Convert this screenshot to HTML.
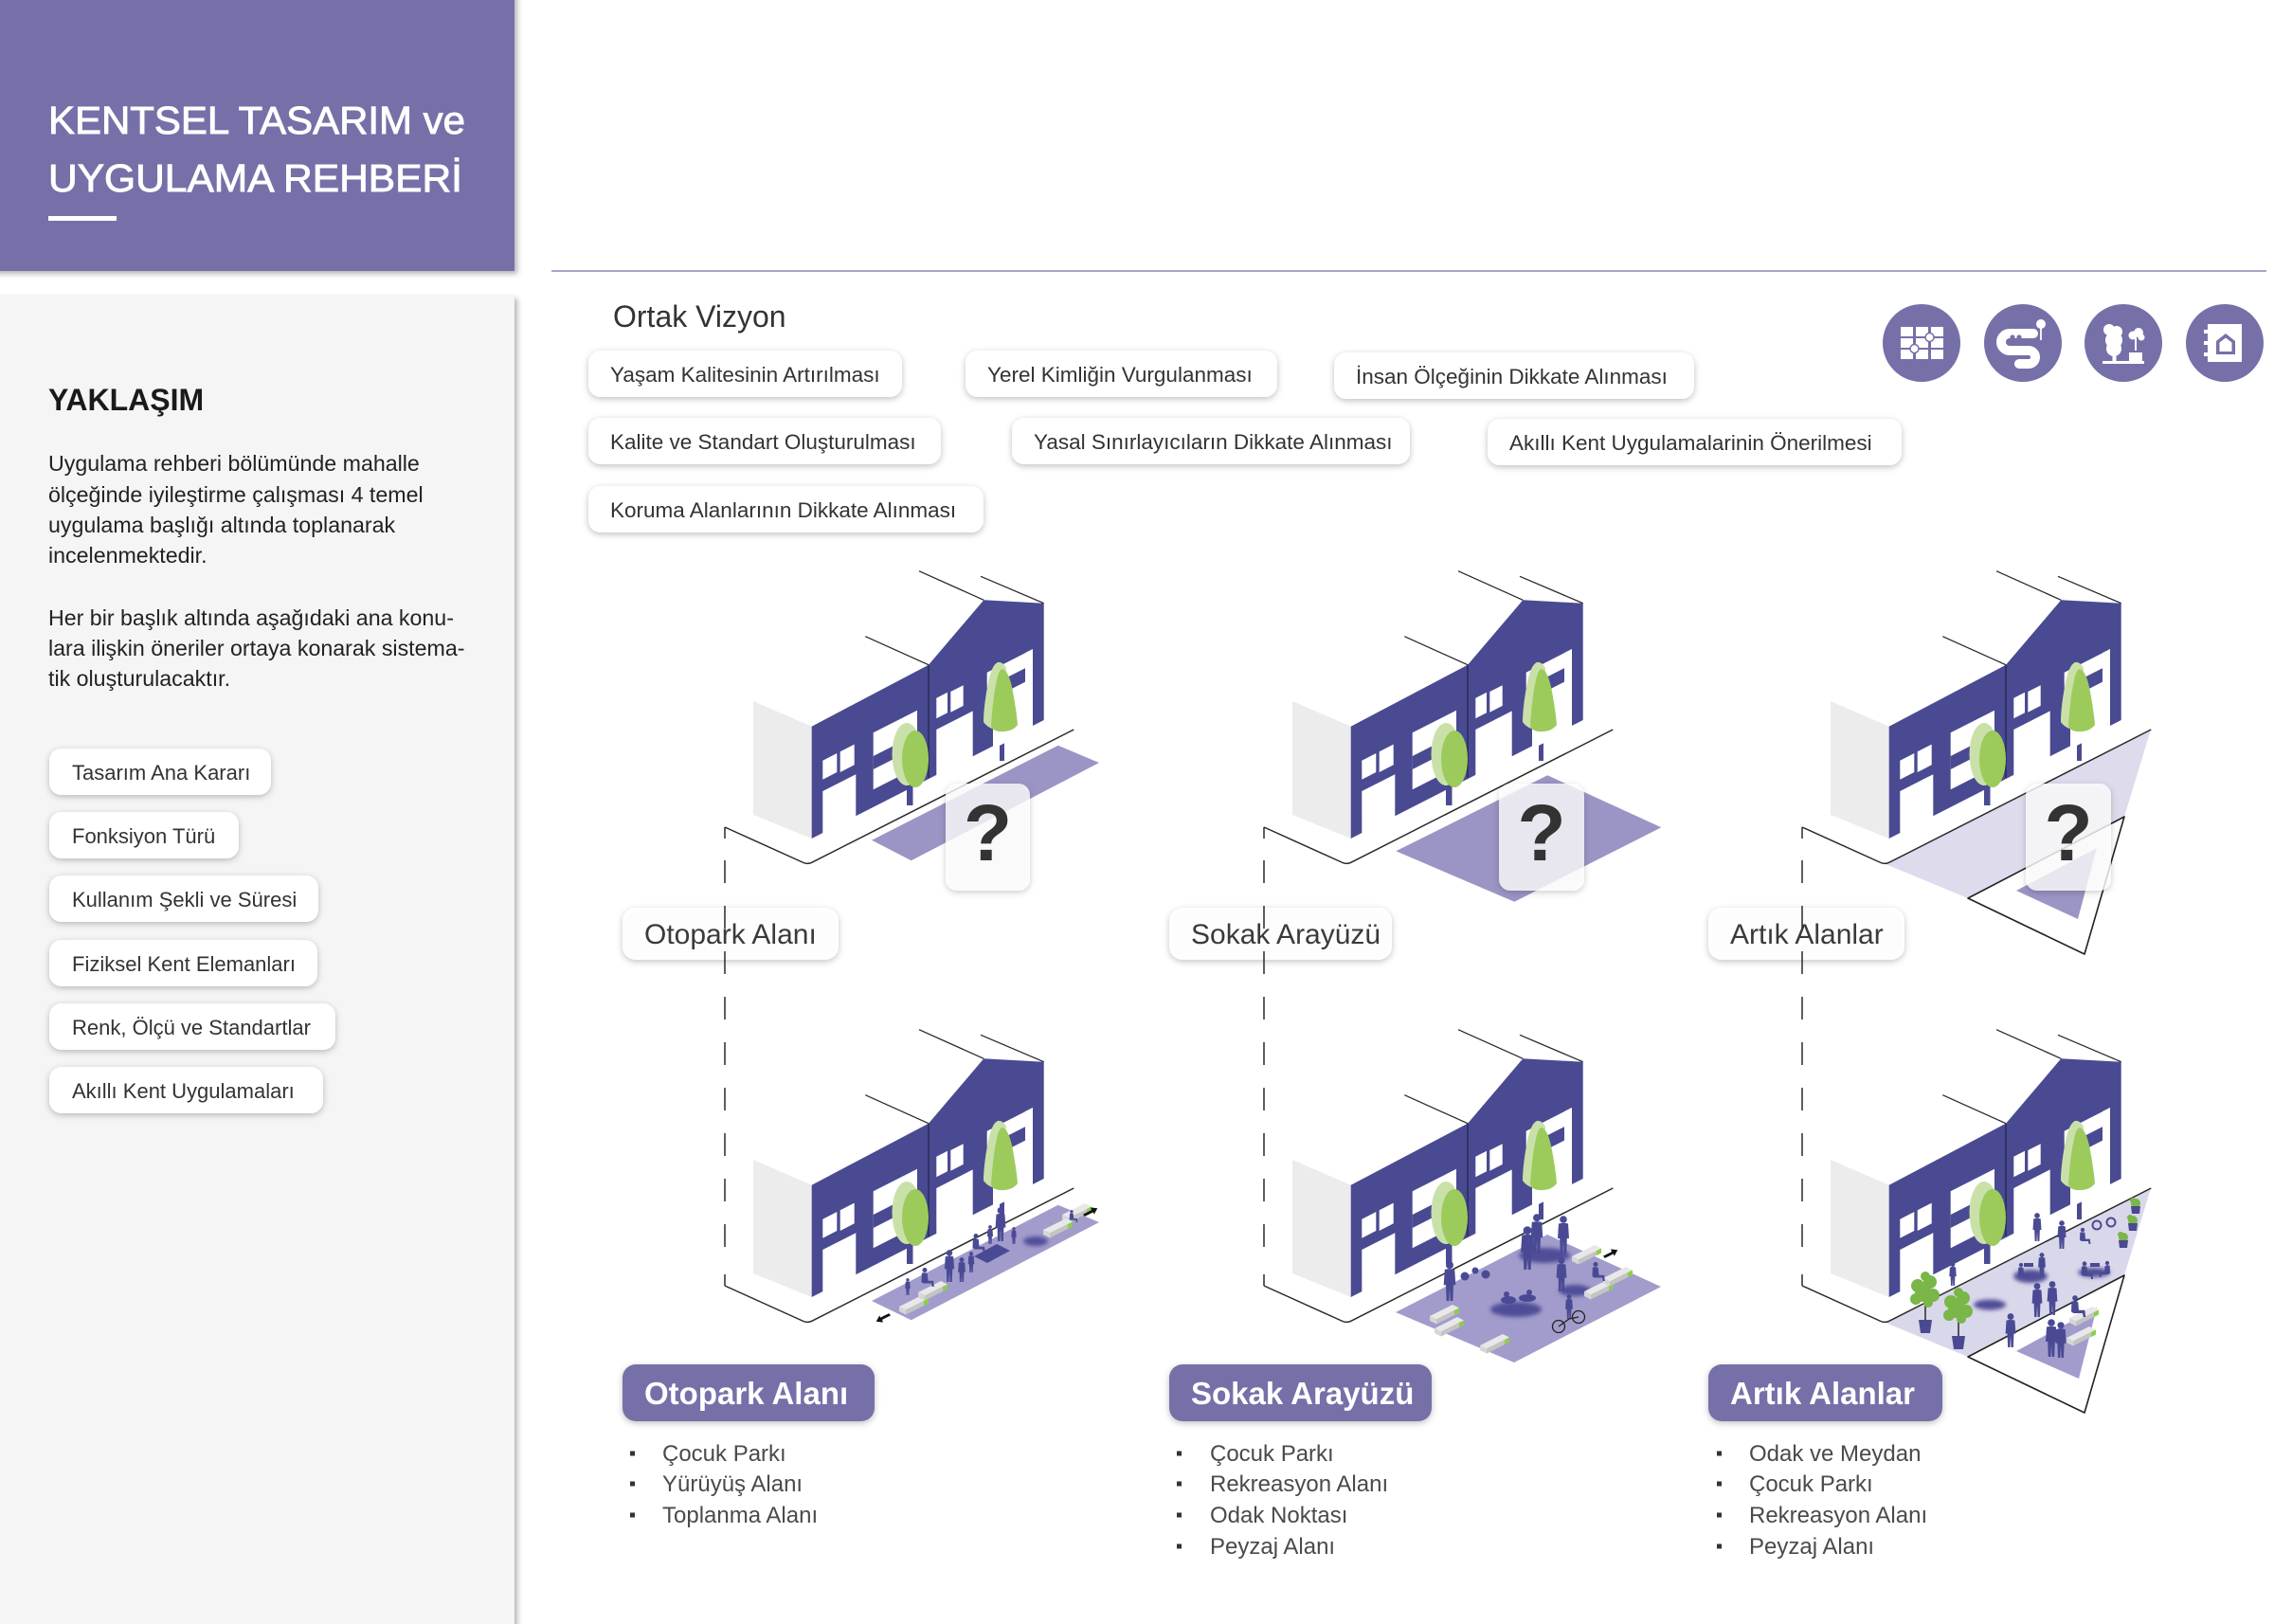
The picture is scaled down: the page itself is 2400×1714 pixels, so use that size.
<!DOCTYPE html>
<html><head><meta charset="utf-8"><style>
html,body{margin:0;padding:0;background:#fff;}
body{width:2400px;height:1714px;overflow:hidden;}
svg{display:block;}
</style></head><body>
<svg width="2400" height="1714" viewBox="0 0 2400 1714" xmlns="http://www.w3.org/2000/svg" xmlns:xlink="http://www.w3.org/1999/xlink" font-family="'Liberation Sans', sans-serif">
<defs>
<filter id="hs" x="-10%" y="-10%" width="125%" height="130%"><feDropShadow dx="3" dy="3" stdDeviation="3" flood-color="#000" flood-opacity="0.3"/></filter>
<filter id="ps" x="-20%" y="-40%" width="140%" height="190%"><feDropShadow dx="0" dy="2" stdDeviation="3.5" flood-color="#000" flood-opacity="0.25"/></filter>
<filter id="bl" x="-50%" y="-50%" width="200%" height="200%"><feGaussianBlur stdDeviation="2"/></filter>
<g id="bld">
<polygon points="795,740 856.7,766.7 856.7,885 795,860" fill="#ececec"/>
<rect x="957" y="815" width="6.5" height="35" fill="#4a4a92"/>
<rect x="1055" y="765" width="5" height="38" fill="#4a4a92"/>
<polygon points="856.7,766.7 980,701.7 1038.3,633.3 1101.7,636.7 1101.7,760 856.7,885" fill="#4a4a92"/>
<g fill="#fff">
<polygon points="868.3,802.7 883.3,795 883.3,815 868.3,822.7"/>
<polygon points="886.7,793.3 901.7,785.6 901.7,807.3 886.7,815"/>
<polygon points="868.3,835 903.3,817.2 903.3,864 868.3,882"/>
<polygon points="921.7,773.3 968,749.7 968,809.7 921.7,833.3"/>
<polygon points="988.3,736.7 1000,730.7 1000,752.3 988.3,758.3"/>
<polygon points="1003.3,730 1016.7,723.2 1016.7,744.9 1003.3,751.7"/>
<polygon points="988.3,770 1026.7,750.4 1026.7,801.3 988.3,820.9"/>
<polygon points="1041.7,709.7 1090,685.1 1090,701.1 1041.7,725.7"/>
<polygon points="1048,737 1090,715.6 1090,769 1048,790.5"/>
<polygon points="1082,689 1090,685 1090,716 1082,720"/>
</g>
<polygon points="921.7,798 958,779.5 958,793.5 921.7,812" fill="#4a4a92"/>
<line x1="980" y1="701.7" x2="980" y2="821" stroke="#22224a" stroke-width="1.2"/>
<g stroke="#2a2a2a" stroke-width="1.3" fill="none">
<line x1="913.3" y1="671.7" x2="980" y2="701.7"/>
<line x1="970" y1="602.7" x2="1038.3" y2="633.3"/>
<line x1="1035" y1="608.3" x2="1101.7" y2="636.7"/>
<path d="M765,873 L848,910.5 Q852.5,912.5 857,910.2 L1133.3,770" stroke-width="1.5"/>
</g>
<ellipse cx="957" cy="796" rx="15.5" ry="33" fill="#c9e1a9"/>
<ellipse cx="966" cy="801" rx="14" ry="30" fill="#9ccb5c"/>
<path d="M1053,699 Q1046,702 1042,725 Q1038,748 1038,762 Q1044,771 1060,771 L1062,705 Q1058,698 1053,699Z" fill="#c9e1a9"/>
<path d="M1058,706 Q1065,708 1069,730 Q1073,752 1074,765 Q1068,773 1055,772 Q1047,771 1046,766 Q1048,735 1052,718 Q1054,707 1058,706Z" fill="#9ccb5c"/>
</g>
<g id="m"><circle cx="0" cy="-36" r="3.8"/><path d="M-5,-31.5 Q0,-33 5,-31.5 L6,-16 L3.8,-16 L3.2,0 L0.6,0 L0,-13 L-0.6,0 L-3.2,0 L-3.8,-16 L-6,-16 Z"/></g>
<g id="s"><circle cx="0" cy="-25" r="3.6"/><path d="M-4.5,-20.5 Q0,-22 4,-20 L5,-9 L13,-9 L14,0 L11,0 L10,-5 L-2,-5 L-5,-7 Z"/></g>
<g id="bn"><polygon points="0,0 24,-12 31,-8.5 7,3.5" fill="#e8e8e8"/><polygon points="7,3.5 31,-8.5 31,-3.5 7,8.5" fill="#c4c4c4"/><polygon points="0,0 7,3.5 7,8.5 0,5" fill="#d6d6d6"/><polygon points="26,-6 31,-8.5 31,-3.5 26,-1" fill="#8ccf48"/></g>
<g id="ar"><path d="M0,4 L10,-1 L9,-4 L17,-3 L13,4 L12,1.5 L2,6.5 Z" fill="#111"/></g>
<g id="pt"><rect x="-1" y="-18" width="2" height="18" fill="#555"/><g fill="#7ab648"><circle cx="-8" cy="-36" r="7"/><circle cx="5" cy="-40" r="7"/><circle cx="-2" cy="-28" r="9"/><circle cx="8" cy="-26" r="7"/><circle cx="-10" cy="-22" r="6"/><circle cx="0" cy="-46" r="5"/><circle cx="3" cy="-18" r="5"/></g><polygon points="-7,0 7,0 5,14 -5,14" fill="#4a4a92"/></g>
<g id="pl"><circle cx="0" cy="-3" r="5" fill="#7ab648"/><circle cx="-3" cy="-6" r="3" fill="#7ab648"/><polygon points="-5,0 5,0 4,8 -4,8" fill="#4a4a92"/></g>
</defs>

<!-- left panel -->
<rect x="-10" y="312" width="553" height="1420" fill="#f5f5f5" filter="url(#hs)"/>
<rect x="-10" y="-10" width="553" height="296" fill="#7670a9" filter="url(#hs)"/>
<text x="51" y="141" font-size="41" fill="#fff" stroke="#fff" stroke-width="0.9" textLength="440" lengthAdjust="spacingAndGlyphs">KENTSEL TASARIM ve</text>
<text x="51" y="202" font-size="41" fill="#fff" stroke="#fff" stroke-width="0.9" textLength="437" lengthAdjust="spacingAndGlyphs">UYGULAMA REHBERİ</text>
<rect x="51" y="228" width="72" height="5" fill="#fff"/>

<text x="51" y="433" font-size="32" font-weight="bold" fill="#1a1a1a">YAKLAŞIM</text>
<g font-size="23.2" fill="#222">
<text x="51" y="497">Uygulama rehberi bölümünde mahalle</text>
<text x="51" y="530">ölçeğinde iyileştirme çalışması 4 temel</text>
<text x="51" y="562">uygulama başlığı altında toplanarak</text>
<text x="51" y="594">incelenmektedir.</text>
<text x="51" y="660">Her bir başlık altında aşağıdaki ana konu-</text>
<text x="51" y="692">lara ilişkin öneriler ortaya konarak sistema-</text>
<text x="51" y="724">tik oluşturulacaktır.</text>
</g>
<g fill="#fff" filter="url(#ps)">
<rect x="52" y="790" width="234" height="49" rx="13"/>
<rect x="52" y="857" width="200" height="49" rx="13"/>
<rect x="52" y="924" width="284" height="49" rx="13"/>
<rect x="52" y="992" width="283" height="49" rx="13"/>
<rect x="52" y="1059" width="302" height="49" rx="13"/>
<rect x="52" y="1126" width="289" height="49" rx="13"/>
</g>
<g font-size="22" fill="#333">
<text x="76" y="823">Tasarım Ana Kararı</text>
<text x="76" y="890">Fonksiyon Türü</text>
<text x="76" y="957">Kullanım Şekli ve Süresi</text>
<text x="76" y="1025">Fiziksel Kent Elemanları</text>
<text x="76" y="1092">Renk, Ölçü ve Standartlar</text>
<text x="76" y="1159">Akıllı Kent Uygulamaları</text>
</g>

<!-- top right -->
<line x1="582" y1="286" x2="2392" y2="286" stroke="#a8a5c8" stroke-width="2"/>
<text x="647" y="345" font-size="32" fill="#333">Ortak Vizyon</text>
<g fill="#fff" filter="url(#ps)">
<rect x="621" y="370" width="331" height="49" rx="13"/>
<rect x="1019" y="370" width="329" height="49" rx="13"/>
<rect x="1408" y="372" width="380" height="49" rx="13"/>
<rect x="621" y="441" width="372" height="49" rx="13"/>
<rect x="1068" y="441" width="420" height="49" rx="13"/>
<rect x="1570" y="442" width="437" height="49" rx="13"/>
<rect x="621" y="513" width="417" height="49" rx="13"/>
</g>
<g font-size="22.5" fill="#333">
<text x="644" y="403">Yaşam Kalitesinin Artırılması</text>
<text x="1042" y="403">Yerel Kimliğin Vurgulanması</text>
<text x="1431" y="405">İnsan Ölçeğinin Dikkate Alınması</text>
<text x="644" y="474">Kalite ve Standart Oluşturulması</text>
<text x="1091" y="474">Yasal Sınırlayıcıların Dikkate Alınması</text>
<text x="1593" y="475">Akıllı Kent Uygulamalarinin Önerilmesi</text>
<text x="644" y="546">Koruma Alanlarının Dikkate Alınması</text>
</g>

<!-- icons -->
<g fill="#7670a9">
<circle cx="2028" cy="362" r="41"/><circle cx="2135" cy="362" r="41"/><circle cx="2241" cy="362" r="41"/><circle cx="2348" cy="362" r="41"/>
</g>
<g fill="#fff">
<rect x="2006" y="345" width="13" height="10"/><rect x="2022" y="345" width="13" height="10"/><rect x="2038" y="345" width="13" height="10"/>
<rect x="2006" y="357" width="13" height="10"/><rect x="2022" y="357" width="13" height="10"/><rect x="2038" y="357" width="13" height="10"/>
<rect x="2006" y="369" width="13" height="10"/><rect x="2022" y="369" width="13" height="10"/><rect x="2038" y="369" width="13" height="10"/>
</g>
<circle cx="2036.5" cy="356" r="4.5" fill="#fff" stroke="#7670a9" stroke-width="1.5"/>
<circle cx="2020.5" cy="368" r="4.5" fill="#fff" stroke="#7670a9" stroke-width="1.5"/>
<path d="M2146,352 H2121 A9,9 0 0 0 2121,370 H2141 A7,7 0 0 1 2141,384 H2131" fill="none" stroke="#fff" stroke-width="10" stroke-linecap="round"/>
<circle cx="2124" cy="356" r="2.6" fill="#7670a9"/><circle cx="2131" cy="356" r="2.6" fill="#7670a9"/>
<circle cx="2154" cy="342" r="5" fill="#fff"/><line x1="2154" y1="345" x2="2154" y2="359" stroke="#fff" stroke-width="1.8"/>
<g fill="#fff">
<circle cx="2226" cy="348" r="6"/><circle cx="2234" cy="350" r="6"/><circle cx="2231" cy="359" r="9"/><circle cx="2231" cy="368" r="8"/>
<rect x="2229.5" y="370" width="4" height="12"/>
<circle cx="2251" cy="354" r="4.5"/><circle cx="2257" cy="351" r="5"/><circle cx="2260" cy="356" r="3.5"/>
<rect x="2253" y="356" width="2" height="14"/>
<rect x="2247" y="372" width="14" height="10"/>
<rect x="2219" y="381" width="44" height="3"/>
<rect x="2330" y="342" width="36" height="40"/>
<rect x="2326" y="348" width="6" height="4"/><rect x="2326" y="360" width="6" height="4"/><rect x="2326" y="372" width="6" height="4"/>
</g>
<polygon points="2339,360 2349,352 2359,360 2359,374 2339,374" fill="#7670a9"/>
<polygon points="2342.5,361.5 2349,356.5 2355.5,361.5 2355.5,371 2342.5,371" fill="#fff"/>

<!-- surfaces top row -->
<polygon points="920,886.7 1116.7,786.7 1160,805 961.7,908.3" fill="#9b95c5"/>
<polygon points="1473.3,898.3 1633.3,818.3 1753.3,873.3 1598.3,951.7" fill="#9b95c5"/>
<polygon points="1990,912 2270,770 2242,862 2077,948" fill="#dddbec"/>
<polygon points="2077,948 2242,862 2200,1007" fill="#fff" stroke="#222" stroke-width="1.6" stroke-linejoin="round"/>
<polygon points="2128,940 2213,895 2193,970" fill="#9b95c5"/>

<!-- surfaces bottom row -->
<polygon points="920,1373 1116.7,1271.7 1160,1290 961.7,1393.3" fill="#a19ccb"/>
<polygon points="1473,1385 1633,1303 1753,1358 1598,1438" fill="#a19ccb"/>
<polygon points="1990,1396 2270,1254 2242,1346 2077,1432" fill="#d9d7ea"/>
<polygon points="2077,1432 2242,1346 2200,1491" fill="#fff" stroke="#222" stroke-width="1.6" stroke-linejoin="round"/>
<polygon points="2128,1426 2213,1380 2194,1455" fill="#a19ccb"/>

<!-- buildings -->
<use xlink:href="#bld" href="#bld"/>
<use xlink:href="#bld" href="#bld" transform="translate(569,0)"/>
<use xlink:href="#bld" href="#bld" transform="translate(1137,0)"/>
<use xlink:href="#bld" href="#bld" transform="translate(0,484)"/>
<use xlink:href="#bld" href="#bld" transform="translate(569,484)"/>
<use xlink:href="#bld" href="#bld" transform="translate(1137,484)"/>

<!-- col1 bottom scene -->
<ellipse cx="1093" cy="1310" rx="13" ry="5" fill="#4f4e98" filter="url(#bl)"/>
<use href="#bn" x="1121" y="1282"/><use href="#bn" x="1101" y="1298"/><use href="#bn" x="949" y="1379"/><use href="#bn" x="969" y="1364"/>
<g fill="#4a4a94">
<use href="#m" transform="translate(1002,1353) scale(.85)"/>
<use href="#m" transform="translate(1015,1353) scale(.65)"/>
<use href="#m" transform="translate(1025,1343) scale(.55)"/>
<use href="#m" transform="translate(1056,1310) scale(.9)"/>
<use href="#m" transform="translate(1045,1313) scale(.5)"/>
<use href="#m" transform="translate(1070,1313) scale(.45)"/>
<use href="#m" transform="translate(958,1367) scale(.45)"/>
<use href="#s" transform="translate(976,1358) scale(.7)"/>
<use href="#s" transform="translate(1131,1290) scale(.45)"/>
<polygon points="1028,1326 1052,1313 1066,1320 1042,1333"/>
<use href="#s" transform="translate(1030,1322) scale(.7)"/>
</g>
<use href="#ar" transform="translate(1143,1278) scale(.9)"/>
<use href="#ar" transform="translate(940,1392) rotate(180) scale(.9)"/>

<!-- col2 bottom scene -->
<g fill="#4f4e98" filter="url(#bl)">
<ellipse cx="1630" cy="1325" rx="27" ry="8"/><ellipse cx="1662" cy="1362" rx="17" ry="6"/><ellipse cx="1600" cy="1382" rx="27" ry="8"/>
</g>
<use href="#bn" x="1659" y="1326"/><use href="#bn" x="1672" y="1363"/><use href="#bn" x="1692" y="1349"/><use href="#bn" x="1509" y="1389"/><use href="#bn" x="1514" y="1402"/><use href="#bn" x="1562" y="1420"/>
<g fill="#4a4a94">
<use href="#m" transform="translate(1530,1373) scale(1.05)"/>
<use href="#m" transform="translate(1612,1340) scale(1.15)"/>
<use href="#m" transform="translate(1622,1323) scale(1.05)"/>
<use href="#m" transform="translate(1650,1323) scale(1.0)"/>
<use href="#m" transform="translate(1648,1363) scale(.9)"/>
<use href="#s" transform="translate(1684,1352) scale(.7)"/>
<ellipse cx="1592" cy="1372" rx="8" ry="4"/><ellipse cx="1612" cy="1370" rx="9" ry="4"/><circle cx="1590" cy="1366" r="3"/><circle cx="1614" cy="1364" r="3"/>
<circle cx="1546" cy="1347" r="4.5"/><circle cx="1568" cy="1345" r="4.5"/><circle cx="1557" cy="1341" r="3.5"/>
<use href="#m" transform="translate(1656,1392) scale(.65)"/>
</g>
<g fill="none" stroke="#222" stroke-width="1.3"><circle cx="1645" cy="1400" r="6.5"/><circle cx="1666" cy="1390" r="6.5"/><path d="M1645,1400 L1656,1392 L1666,1390"/></g>
<use href="#ar" transform="translate(1692,1322) scale(.9)"/>

<!-- col3 bottom scene -->
<g fill="#4f4e98" filter="url(#bl)">
<ellipse cx="2100" cy="1377" rx="17" ry="5.5"/><ellipse cx="2143" cy="1347" rx="18" ry="7"/><ellipse cx="2210" cy="1343" rx="17" ry="5"/>
</g>
<use href="#pt" x="2032" y="1393"/><use href="#pt" x="2067" y="1410"/>
<use href="#pl" x="2254" y="1273"/><use href="#pl" x="2251" y="1291"/><use href="#pl" x="2241" y="1309"/>
<use href="#bn" x="2184" y="1391"/><use href="#bn" x="2181" y="1412"/>
<g fill="#4a4a94">
<use href="#m" transform="translate(2150,1310) scale(.75)"/>
<rect x="2136" y="1333" width="10" height="4"/>
<use href="#s" transform="translate(2133,1350) scale(.6)"/>
<use href="#m" transform="translate(2155,1348) scale(.65)"/>
<rect x="2206" y="1333" width="10" height="4"/>
<use href="#s" transform="translate(2200,1350) scale(.65)"/>
<use href="#s" transform="translate(2224,1348) scale(-.6,.6)"/>
<use href="#m" transform="translate(2176,1318) scale(.75)"/>
<use href="#s" transform="translate(2198,1313) scale(.6)"/>
<use href="#m" transform="translate(2150,1390) scale(.9)"/>
<use href="#m" transform="translate(2166,1388) scale(.9)"/>
<use href="#m" transform="translate(2122,1422) scale(.9)"/>
<use href="#m" transform="translate(2165,1432) scale(1.0)"/>
<use href="#m" transform="translate(2175,1433) scale(.95)"/>
<use href="#s" transform="translate(2190,1390) scale(.8)"/>
<use href="#m" transform="translate(2061,1357) scale(.62)"/>
</g>
<g fill="none" stroke="#4a4a94" stroke-width="2"><circle cx="2213" cy="1293" r="4.5"/><circle cx="2228" cy="1290" r="4.5"/></g>

<!-- question boxes -->
<g fill="#fff" fill-opacity="0.78" filter="url(#ps)">
<rect x="998" y="827" width="89" height="113" rx="12"/>
<rect x="1582" y="827" width="90" height="113" rx="12"/>
<rect x="2138" y="827" width="90" height="113" rx="12"/>
</g>
<g font-size="84" font-weight="bold" fill="#333" text-anchor="middle">
<text x="1042.5" y="908">?</text>
<text x="1627" y="908">?</text>
<text x="2183" y="908">?</text>
</g>

<!-- middle labels -->
<g fill="#fff" fill-opacity="0.92" filter="url(#ps)">
<rect x="657" y="958" width="228" height="55" rx="14"/>
<rect x="1234" y="958" width="235" height="55" rx="14"/>
<rect x="1803" y="958" width="207" height="55" rx="14"/>
</g>
<g font-size="30" fill="#3a3a3a">
<text x="680" y="996">Otopark Alanı</text>
<text x="1257" y="996">Sokak Arayüzü</text>
<text x="1826" y="996">Artık Alanlar</text>
</g>

<!-- dashed connectors -->
<g stroke="#2a2a2a" stroke-width="1.5">
<path d="M765,873 V885 M765,908 V932 M765,956 V980 M765,1004 V1028 M765,1052 V1076 M765,1100 V1124 M765,1148 V1172 M765,1196 V1220 M765,1244 V1268 M765,1292 V1316 M765,1345 V1357"/>
<path d="M1334,873 V885 M1334,908 V932 M1334,956 V980 M1334,1004 V1028 M1334,1052 V1076 M1334,1100 V1124 M1334,1148 V1172 M1334,1196 V1220 M1334,1244 V1268 M1334,1292 V1316 M1334,1345 V1357"/>
<path d="M1902,873 V885 M1902,908 V932 M1902,956 V980 M1902,1004 V1028 M1902,1052 V1076 M1902,1100 V1124 M1902,1148 V1172 M1902,1196 V1220 M1902,1244 V1268 M1902,1292 V1316 M1902,1345 V1357"/>
</g>

<!-- bottom labels -->
<g fill="#7670a9" filter="url(#ps)">
<rect x="657" y="1440" width="266" height="60" rx="14"/>
<rect x="1234" y="1440" width="277" height="60" rx="14"/>
<rect x="1803" y="1440" width="247" height="60" rx="14"/>
</g>
<g font-size="33" font-weight="bold" fill="#fff">
<text x="680" y="1482">Otopark Alanı</text>
<text x="1257" y="1482">Sokak Arayüzü</text>
<text x="1826" y="1482">Artık Alanlar</text>
</g>

<!-- bullet lists -->
<g fill="#333">
<rect x="665" y="1531.5" width="5" height="5"/><rect x="665" y="1563.5" width="5" height="5"/><rect x="665" y="1596.5" width="5" height="5"/>
<rect x="1242" y="1531.5" width="5" height="5"/><rect x="1242" y="1563.5" width="5" height="5"/><rect x="1242" y="1596.5" width="5" height="5"/><rect x="1242" y="1629.5" width="5" height="5"/>
<rect x="1812" y="1531.5" width="5" height="5"/><rect x="1812" y="1563.5" width="5" height="5"/><rect x="1812" y="1596.5" width="5" height="5"/><rect x="1812" y="1629.5" width="5" height="5"/>
</g>
<g font-size="24" fill="#4a4a4a">
<text x="699" y="1542">Çocuk Parkı</text>
<text x="699" y="1574">Yürüyüş Alanı</text>
<text x="699" y="1607">Toplanma Alanı</text>
<text x="1277" y="1542">Çocuk Parkı</text>
<text x="1277" y="1574">Rekreasyon Alanı</text>
<text x="1277" y="1607">Odak Noktası</text>
<text x="1277" y="1640">Peyzaj Alanı</text>
<text x="1846" y="1542">Odak ve Meydan</text>
<text x="1846" y="1574">Çocuk Parkı</text>
<text x="1846" y="1607">Rekreasyon Alanı</text>
<text x="1846" y="1640">Peyzaj Alanı</text>
</g>
</svg>
</body></html>
